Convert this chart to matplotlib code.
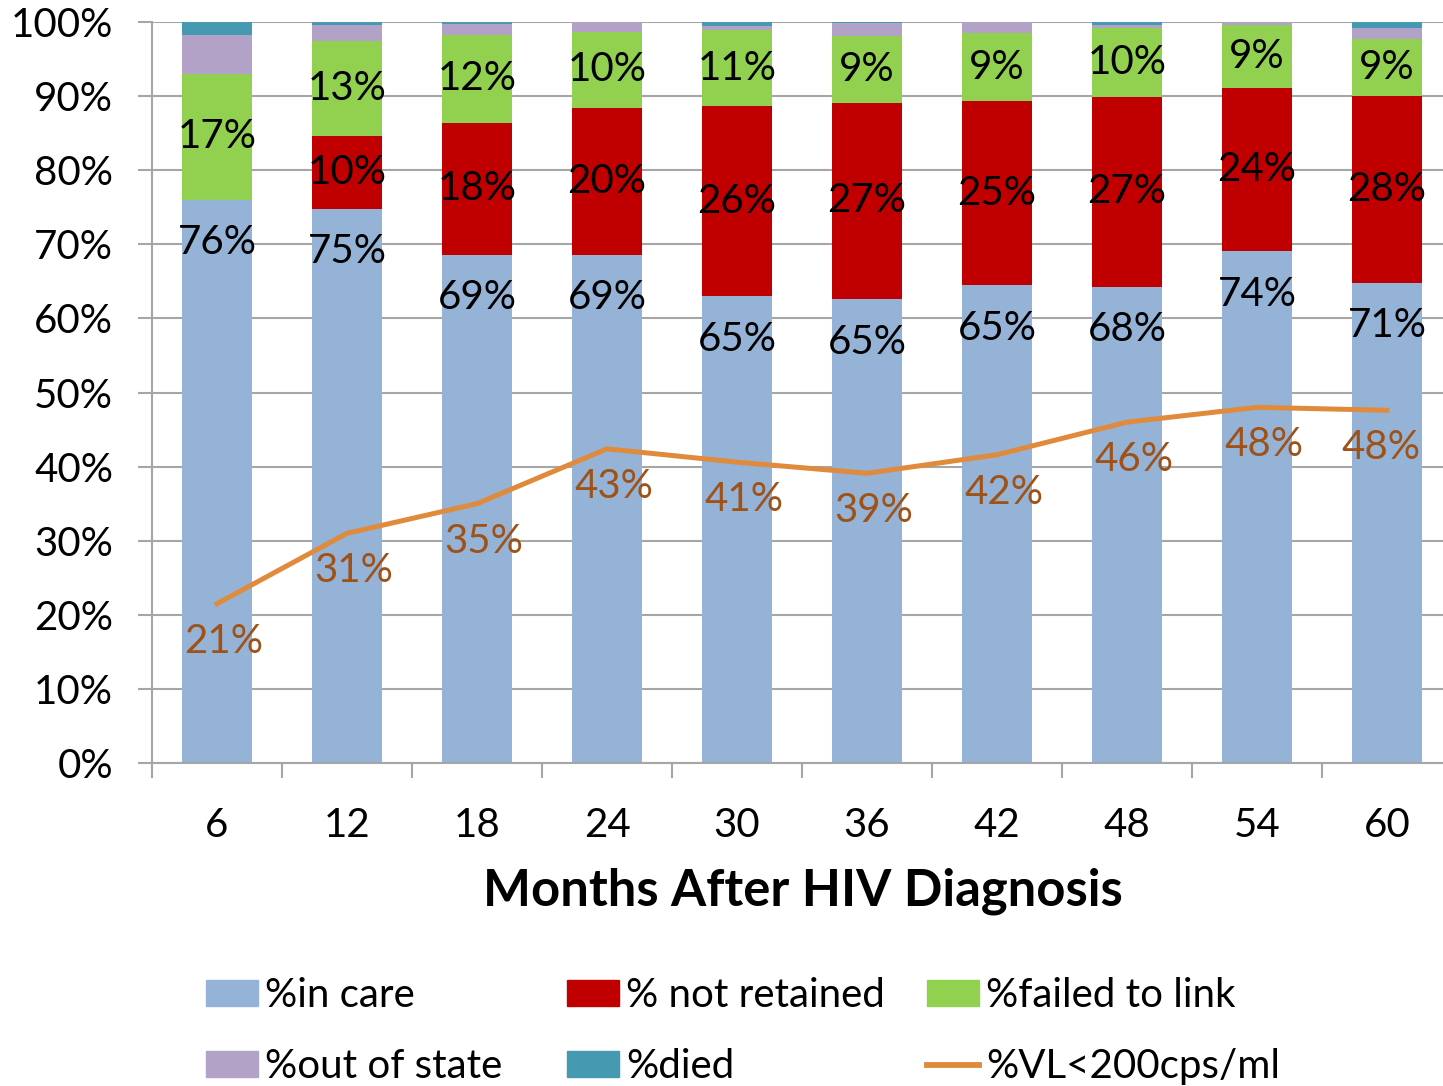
import matplotlib
matplotlib.use("Agg")
import numpy as np
import matplotlib.pyplot as plt
from matplotlib.patches import Patch
from matplotlib.lines import Line2D

plt.rcParams['font.family'] = ['Lato', 'DejaVu Sans']

# months after diagnosis
months = ["6", "12", "18", "24", "30", "36", "42", "48", "54", "60"]

# stacked segments (percent of cohort)
in_care = [76.0, 74.8, 68.6, 68.6, 63.0, 62.6, 64.5, 64.3, 69.1, 64.8]
not_retained = [0.0, 9.8, 17.8, 19.8, 25.6, 26.5, 24.8, 25.6, 22.0, 25.2]
failed_link = [17.0, 12.8, 11.9, 10.3, 10.3, 9.0, 9.2, 9.3, 8.5, 7.7]
out_of_state = [5.3, 2.2, 1.4, 1.3, 0.6, 1.7, 1.5, 0.4, 0.4, 1.5]
died = [1.7, 0.4, 0.3, 0.0, 0.5, 0.2, 0.0, 0.4, 0.0, 0.8]

# viral suppression line
vl_suppressed = [21.5, 31.0, 35.0, 42.4, 40.6, 39.1, 41.6, 46.0, 48.0, 47.6]

# data label texts as printed on the chart
in_care_lbl = ["76%", "75%", "69%", "69%", "65%", "65%", "65%", "68%", "74%", "71%"]
not_ret_lbl = ["", "10%", "18%", "20%", "26%", "27%", "25%", "27%", "24%", "28%"]
failed_lbl = ["17%", "13%", "12%", "10%", "11%", "9%", "9%", "10%", "9%", "9%"]
vl_lbl = ["21%", "31%", "35%", "43%", "41%", "39%", "42%", "46%", "48%", "48%"]

c_blue = "#95B3D7"
c_red = "#C00000"
c_green = "#92D050"
c_purple = "#B3A2C7"
c_teal = "#4599B0"
c_line = "#E08A3C"
c_line_lbl = "#9E5217"
c_grid = "#A6A6A6"

W, H = 1443, 1086
fig = plt.figure(figsize=(W / 100, H / 100), dpi=100)
ax = fig.add_axes([152 / W, (H - 763) / H, 1300 / W, (763 - 22) / H])

x = np.arange(len(months))
bw = 0.54
fs = 29

segments = [in_care, not_retained, failed_link, out_of_state, died]
colors = [c_blue, c_red, c_green, c_purple, c_teal]
bottom = np.zeros(len(months))
for vals, col in zip(segments, colors):
    ax.bar(x, vals, bw, bottom=bottom, color=col, zorder=2)
    bottom += np.array(vals)

ax.plot(x, vl_suppressed, color=c_line, lw=3.6, zorder=3, solid_joinstyle='round')

# data labels
for i in x:
    ax.annotate(in_care_lbl[i], (i, in_care[i]), xytext=(0, -31), textcoords='offset points',
                ha='center', va='center', fontsize=fs, zorder=4)
    if not_ret_lbl[i]:
        ax.text(i, in_care[i] + not_retained[i] / 2, not_ret_lbl[i], ha='center', va='center',
                fontsize=fs, zorder=4)
    ax.text(i, in_care[i] + not_retained[i] + failed_link[i] / 2, failed_lbl[i],
            ha='center', va='center', fontsize=fs, zorder=4)
    dx = -4 if i == len(x) - 1 else 5
    ax.annotate(vl_lbl[i], (i, vl_suppressed[i]), xytext=(dx, -27), textcoords='offset points',
                ha='center', va='center', fontsize=fs, color=c_line_lbl, zorder=4)

ax.set_xlim(-0.5, 9.5)
ax.set_ylim(0, 100)
ax.set_yticks(np.arange(0, 101, 10))
ax.set_yticklabels([f"{v}%" for v in range(0, 101, 10)], fontsize=fs)
ax.yaxis.grid(True, color=c_grid, lw=1.5, zorder=0)
ax.tick_params(axis='y', length=10, width=1.5, color=c_grid, pad=18)

ax.set_xticks(x)
ax.set_xticklabels(months, fontsize=fs)
ax.set_xticks(np.arange(-0.5, 10, 1), minor=True)
ax.tick_params(axis='x', which='major', length=0, pad=32)
ax.tick_params(axis='x', which='minor', length=11, width=1.5, color=c_grid)

for s in ['top', 'right']:
    ax.spines[s].set_visible(False)
for s in ['left', 'bottom']:
    ax.spines[s].set_color(c_grid)
    ax.spines[s].set_linewidth(1.5)

fig.text(803 / W, 1 - 891 / H, "Months After HIV Diagnosis", ha='center', va='center',
         fontsize=36.5, fontweight='bold')

# legend laid out in three fixed columns like the original
legend_cols = [
    (206, [Patch(color=c_blue), Patch(color=c_purple)], ["%in care", "%out of state"]),
    (567, [Patch(color=c_red), Patch(color=c_teal)], ["% not retained", "%died"]),
    (927, [Patch(color=c_green), Line2D([], [], color=c_line, lw=4.2)],
     ["%failed to link", "%VL<200cps/ml"]),
]
for xpos, handles, labels in legend_cols:
    fig.legend(handles, labels, loc='center left', bbox_to_anchor=(xpos / W, 1 - 1031 / H),
               frameon=False, fontsize=fs, borderpad=0, borderaxespad=0,
               handlelength=1.3, handleheight=0.62, handletextpad=0.17, labelspacing=0.85)

fig.savefig("out.png", dpi=100)
